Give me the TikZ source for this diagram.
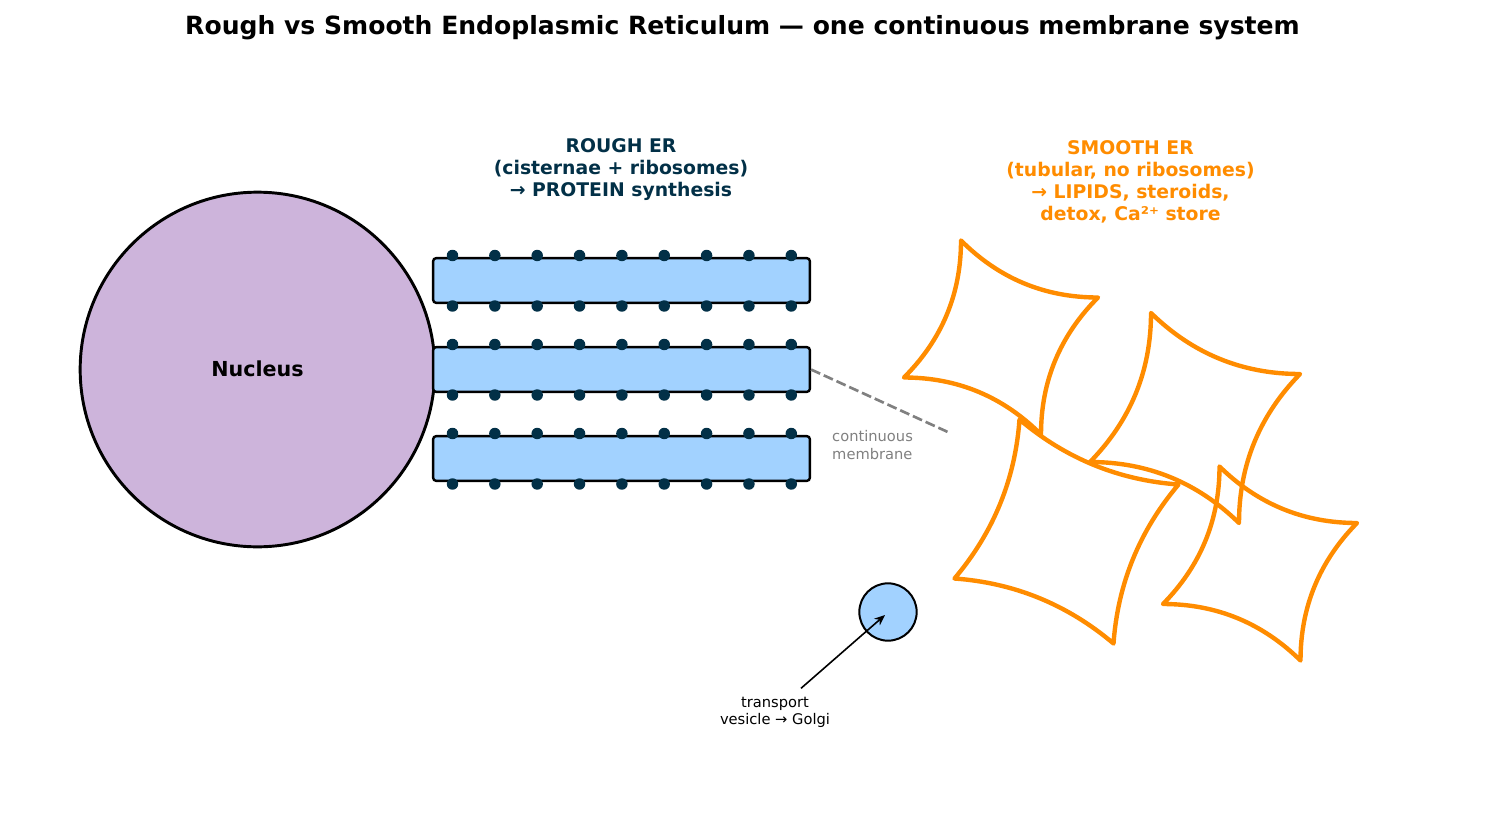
\documentclass[tikz,border=0pt]{standalone}
\usepackage{fontspec}
\setmainfont{DejaVu Sans}
\usetikzlibrary{calc,arrows.meta}
\definecolor{navy}{HTML}{023047}
\definecolor{cisternablue}{HTML}{A2D2FF}
\definecolor{nucleuslilac}{HTML}{CDB4DB}
\definecolor{smoothorange}{HTML}{FF8C00}
\tikzset{
  x=0.75pt, y=-0.75pt,
  nucleusdisc/.style={circle, draw=black, line width=2.2pt, fill=nucleuslilac, minimum size=266pt, inner sep=0pt},
  cisterna/.style={rectangle, draw=black, line width=1.8pt, fill=cisternablue, rounded corners=2.2pt,
    minimum width=282.5pt, minimum height=33.5pt, inner sep=0pt},
  ribosome/.style={circle, fill=navy, minimum size=8.6pt, inner sep=0pt},
  vesicleball/.style={circle, draw=black, line width=1.5pt, fill=cisternablue, minimum size=43pt, inner sep=0pt},
  tubule/.style={draw=smoothorange, line width=3.3pt, line join=round},
  heading/.style={font=\fontsize{18.8}{22}\selectfont\bfseries},
  roughtext/.style={text=navy, align=center, font=\fontsize{14.1}{16.4}\selectfont\bfseries},
  smoothtext/.style={text=smoothorange, align=center, font=\fontsize{14.1}{16.5}\selectfont\bfseries},
  smalltext/.style={align=center, font=\fontsize{11}{13.2}\selectfont},
}
% One smooth-ER lobe: centre (#1,#2), long half-extent #3, short half-extent #4,
% and #5 the depth of the inward bow of its sides (1 = full depth).
\newcommand{\tubulelobe}[5]{%
  \pgfmathsetmacro{\la}{#3}\pgfmathsetmacro{\lb}{#4}%
  % quadratic control point of the top side, relative to the centre
  \pgfmathsetmacro{\mx}{(#3-#4)/2}\pgfmathsetmacro{\my}{-(#3+#4)/2}%
  \pgfmathsetmacro{\cx}{\mx+#5*(0.175*#3-\mx)}\pgfmathsetmacro{\cy}{\my+#5*(-#4-\my)}%
  % the four sides are quarter-turn copies of the top side
  \draw[tubule, shift={(#1,#2)}]
    (-\lb,-\la)
    .. controls ({-\lb+2/3*(\cx+\lb)},{-\la+2/3*(\cy+\la)}) and ({\cx+(\la-\cx)/3},{\cy+(-\lb-\cy)/3}) .. (\la,-\lb)
    .. controls ({\la+2/3*(-\cy-\la)},{-\lb+2/3*(\cx+\lb)}) and ({-\cy+(\lb+\cy)/3},{\cx+(\la-\cx)/3}) .. (\lb,\la)
    .. controls ({\lb+2/3*(-\cx-\lb)},{\la+2/3*(-\cy-\la)}) and ({-\cx+(-\la+\cx)/3},{-\cy+(\lb+\cy)/3}) .. (-\la,\lb)
    .. controls ({-\la+2/3*(\cy+\la)},{\lb+2/3*(-\cx-\lb)}) and ({\cy+(-\lb-\cy)/3},{-\cx+(-\la+\cx)/3}) .. cycle;%
}
\begin{document}
\begin{tikzpicture}
\useasboundingbox (0,0) rectangle (1485,821);

\node[heading] (title) at (742.5,27.5) {Rough vs Smooth Endoplasmic Reticulum — one continuous membrane system};

% Nucleus
\node[nucleusdisc, font=\fontsize{15.5}{18}\selectfont\bfseries] (nucleus) at (257.5,369.5) {\raisebox{0.7pt}{Nucleus}};

% Rough ER: three cisternae studded with ribosomes
\foreach \name/\yc in {cisternaA/280.5, cisternaB/369.5, cisternaC/458.5} {
  \node[cisterna] (\name) at (621.5,\yc) {};
  \foreach \i in {0,...,8} {
    \node[ribosome] (\name top\i) at ({452.5+42.35*\i},\yc-25) {};
    \node[ribosome] (\name bot\i) at ({452.5+42.35*\i},\yc+25.5) {};
  }
}
\node[roughtext] (roughlabel) at (621,169.5) {ROUGH ER\\(cisternae + ribosomes)\\→ PROTEIN synthesis};

% Smooth ER lobes
\tubulelobe{1001}{337.5}{97}{40}{1}
\tubulelobe{1195}{418}{105}{44}{1}
\tubulelobe{1066.5}{531.5}{112}{47}{0.8}
\tubulelobe{1260}{563.5}{97}{40.5}{1}
\node[smoothtext] (smoothlabel) at (1130.5,182) {SMOOTH ER\\(tubular, no ribosomes)\\→ LIPIDS, steroids,\\detox, Ca²⁺ store};

% Continuity between rough and smooth membranes
\coordinate (smoothjoin) at (950,433);
\draw[gray, line width=2pt, dash pattern=on 7.5pt off 3pt] (cisternaB.east) -- (smoothjoin);
\node[smalltext, text=gray, align=left, anchor=west] (continuity) at (827.5,445) {continuous\\membrane};

% Transport vesicle
\node[vesicleball] (vesicle) at (888,612) {};
\node[smalltext] (vesiclelabel) at (775,712.5) {transport\\vesicle → Golgi};
\draw[-{Stealth[length=8pt,width=6.5pt]}, black, line width=1.2pt]
  ($(vesiclelabel.north)+(26,-4)$) -- ($(vesicle.center)+(-3,3)$);
\end{tikzpicture}
\end{document}
